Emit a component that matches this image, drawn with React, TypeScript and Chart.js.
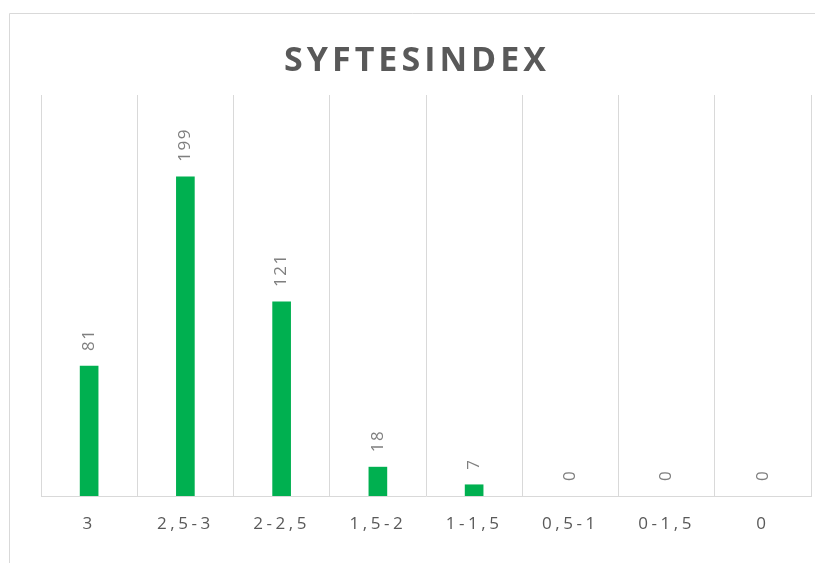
import React, { useEffect, useRef } from "react";
import { Chart, registerables } from "chart.js";

Chart.register(...registerables);

const categories = ["3", "2,5-3", "2-2,5", "1,5-2", "1-1,5", "0,5-1", "0-1,5", "0"];
const counts = [81, 199, 121, 18, 7, 0, 0, 0];
const chartTitle = "SYFTESINDEX";
const yMax = 250;

const FONT = "'Open Sans', 'Liberation Sans', sans-serif";

const decorPlugin = {
  id: "decor",
  beforeDraw(chart: any) {
    const ctx = chart.ctx;
    ctx.save();
    ctx.strokeStyle = "#d9d9d9";
    ctx.lineWidth = 1;
    ctx.beginPath();
    ctx.moveTo(9.5, 563);
    ctx.lineTo(9.5, 13.5);
    ctx.lineTo(815, 13.5);
    ctx.stroke();
    // title
    ctx.fillStyle = "#595959";
    ctx.font = `bold 34px ${FONT}`;
    (ctx as any).letterSpacing = "4px";
    ctx.textAlign = "center";
    ctx.textBaseline = "middle";
    ctx.fillText(chartTitle, 417, 61);
    ctx.restore();
    (ctx as any).letterSpacing = "3.5px";
  },
  afterDatasetsDraw(chart: any) {
    const ctx = chart.ctx;
    const meta = chart.getDatasetMeta(0);
    const data = chart.data.datasets[0].data;
    ctx.save();
    ctx.fillStyle = "#7f7f7f";
    ctx.font = `17px ${FONT}`;
    (ctx as any).letterSpacing = "1.5px";
    ctx.textAlign = "left";
    ctx.textBaseline = "middle";
    meta.data.forEach((el: any, i: number) => {
      ctx.save();
      ctx.translate(el.x, el.y - 15);
      ctx.rotate(-Math.PI / 2);
      ctx.fillText(String(data[i]), 0, 0);
      ctx.restore();
    });
    ctx.restore();
  },
  afterDraw(chart: any) {
    (chart.ctx as any).letterSpacing = "0px";
  },
};

export default function App() {
  const ref = useRef<HTMLCanvasElement>(null);
  useEffect(() => {
    if (!ref.current) return;
    const chart = new Chart(ref.current, {
      type: "bar",
      data: {
        labels: categories,
        datasets: [
          {
            data: counts,
            backgroundColor: (c: any) => (c.raw === 0 ? "rgba(0,0,0,0)" : "#00B050"),
            barThickness: 18,
          },
        ],
      },
      options: {
        animation: false,
        responsive: false,
        layout: { padding: { left: 41, right: 4, top: 95, bottom: 0 } },
        plugins: {
          legend: { display: false },
          title: { display: false },
          tooltip: { enabled: false },
        },
        scales: {
          x: {
            grid: { color: "#d9d9d9", lineWidth: 1, drawTicks: false, offset: true },
            border: { display: true, color: "#d9d9d9" },
            ticks: {
              color: "#595959",
              font: { family: FONT, size: 17 },
              padding: 18,
              maxRotation: 0,
              autoSkip: false,
            },
            afterFit(scale: any) {
              scale.height = 67;
            },
          },
          y: {
            display: false,
            min: 0,
            max: yMax,
          },
        },
      },
      plugins: [decorPlugin],
    });
    return () => chart.destroy();
  }, []);
  return (
    <div style={{ position: "fixed", left: 0, top: 0, width: 815, height: 563, background: "#fff" }}>
      <canvas ref={ref} width={815} height={563} style={{ display: "block" }} />
    </div>
  );
}
